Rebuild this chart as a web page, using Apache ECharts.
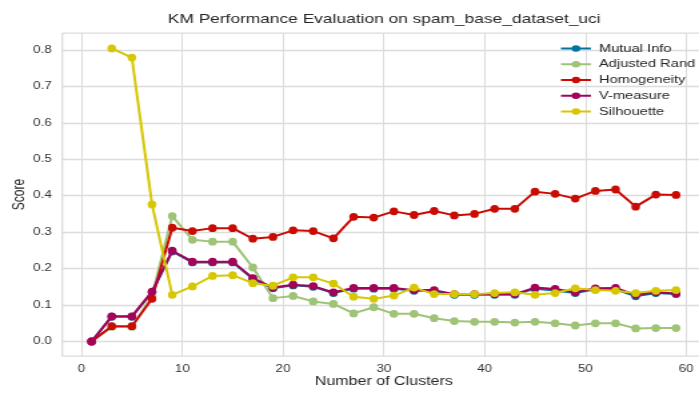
<!DOCTYPE html>
<html>
<head>
<meta charset="utf-8">
<script src="https://cdn.jsdelivr.net/npm/echarts@6/dist/echarts.min.js"></script>
<style>
html,body{margin:0;padding:0;background:#fff;overflow:hidden}
#c{width:524px;height:393px;transform:scaleX(1.334);transform-origin:0 0}
</style>
</head>
<body>
<div id="c"></div>
<script>
const clusters = [1,3,5,7,9,11,13,15,17,19,21,23,25,27,29,31,33,35,37,39,41,43,45,47,49,51,53,55,57,59];
const mutualInfo = [0,0.068,0.068,0.135,0.247,0.217,0.217,0.217,0.172,0.146,0.154,0.150,0.133,0.145,0.145,0.145,0.139,0.139,0.128,0.128,0.128,0.128,0.145,0.140,0.133,0.143,0.143,0.124,0.133,0.130];
const adjustedRand = [0,0.04,0.04,0.125,0.344,0.279,0.274,0.274,0.203,0.119,0.125,0.110,0.103,0.077,0.094,0.076,0.076,0.064,0.056,0.054,0.054,0.052,0.054,0.050,0.044,0.050,0.050,0.036,0.037,0.037];
const homogeneity = [0,0.042,0.042,0.117,0.312,0.303,0.311,0.311,0.282,0.287,0.305,0.303,0.283,0.342,0.340,0.357,0.347,0.358,0.346,0.350,0.364,0.364,0.411,0.405,0.392,0.413,0.417,0.370,0.403,0.402];
const vMeasure = [0,0.069,0.069,0.137,0.249,0.219,0.219,0.219,0.174,0.148,0.156,0.152,0.135,0.147,0.147,0.147,0.141,0.141,0.130,0.130,0.130,0.130,0.148,0.144,0.135,0.146,0.147,0.128,0.135,0.132];
const silhouette = [null,0.804,0.779,0.376,0.128,0.151,0.180,0.182,0.160,0.153,0.176,0.176,0.159,0.123,0.117,0.126,0.148,0.130,0.130,0.130,0.133,0.135,0.128,0.133,0.146,0.141,0.139,0.133,0.139,0.141];
const xTicks = [0,10,20,30,40,50,60];
const yTicks = [0,0.1,0.2,0.3,0.4,0.5,0.6,0.7,0.8];
const seriesNames = ['Mutual Info','Adjusted Rand','Homogeneity','V-measure','Silhouette'];
const seriesColors = ['#0272a2','#9fc377','#ca0b03','#a50258','#d7c703'];
const seriesValues = [mutualInfo, adjustedRand, homogeneity, vMeasure, silhouette];

const font = 'Liberation Sans, Arial, sans-serif';
const chart = echarts.init(document.getElementById('c'), null, {renderer:'canvas'});
chart.setOption({
  animation:false,
  backgroundColor:'#fff',
  title:{text:'KM Performance Evaluation on spam_base_dataset_uci', left:283, top:8, textAlign:'center',
    textStyle:{fontFamily:font,fontSize:13,fontWeight:'normal',color:'#262626'}},
  legend:{orient:'vertical', left:414.5, top:38, itemWidth:22.5, itemHeight:8, itemGap:4.75,
    textStyle:{fontFamily:font,fontSize:11,color:'#262626',padding:[0,0,0,1]},
    data:seriesNames},
  grid:{left:46.75, top:33.1, width:481.9, height:323, show:true, borderColor:'#d2d2d2', borderWidth:1,
    containLabel:false, outerBoundsMode:'none'},
  xAxis:{type:'value', min:-1.9, max:61.9,
    name:'Number of Clusters', nameLocation:'middle', nameGap:20, nameMoveOverlap:false,
    nameTextStyle:{fontFamily:font,fontSize:12,color:'#262626'},
    axisLine:{show:false}, axisTick:{show:false, customValues:xTicks},
    axisLabel:{fontFamily:font,fontSize:10,color:'#333',margin:8,customValues:xTicks},
    splitLine:{show:true,lineStyle:{color:'#dcdcdc',width:1}}},
  yAxis:{type:'value', min:-0.04, max:0.846,
    name:'Score', nameLocation:'middle', nameGap:26, nameMoveOverlap:false,
    nameTextStyle:{fontFamily:font,fontSize:12,color:'#262626'},
    axisLine:{show:false}, axisTick:{show:false, customValues:yTicks},
    axisLabel:{fontFamily:font,fontSize:10,color:'#333',margin:8,customValues:yTicks,
      formatter:v=>v.toFixed(1)},
    splitLine:{show:true,lineStyle:{color:'#dcdcdc',width:1.3}}},
  series: seriesNames.map((n,i)=>({
    name:n, type:'line', color:seriesColors[i],
    data: clusters.map((c,j)=>[c, seriesValues[i][j]]),
    symbol:'circle', symbolSize:[6.5,7.8], showSymbol:true,
    lineStyle:{width:2}, itemStyle:{color:seriesColors[i]},
    connectNulls:false, z:2+i
  }))
});
</script>
</body>
</html>
